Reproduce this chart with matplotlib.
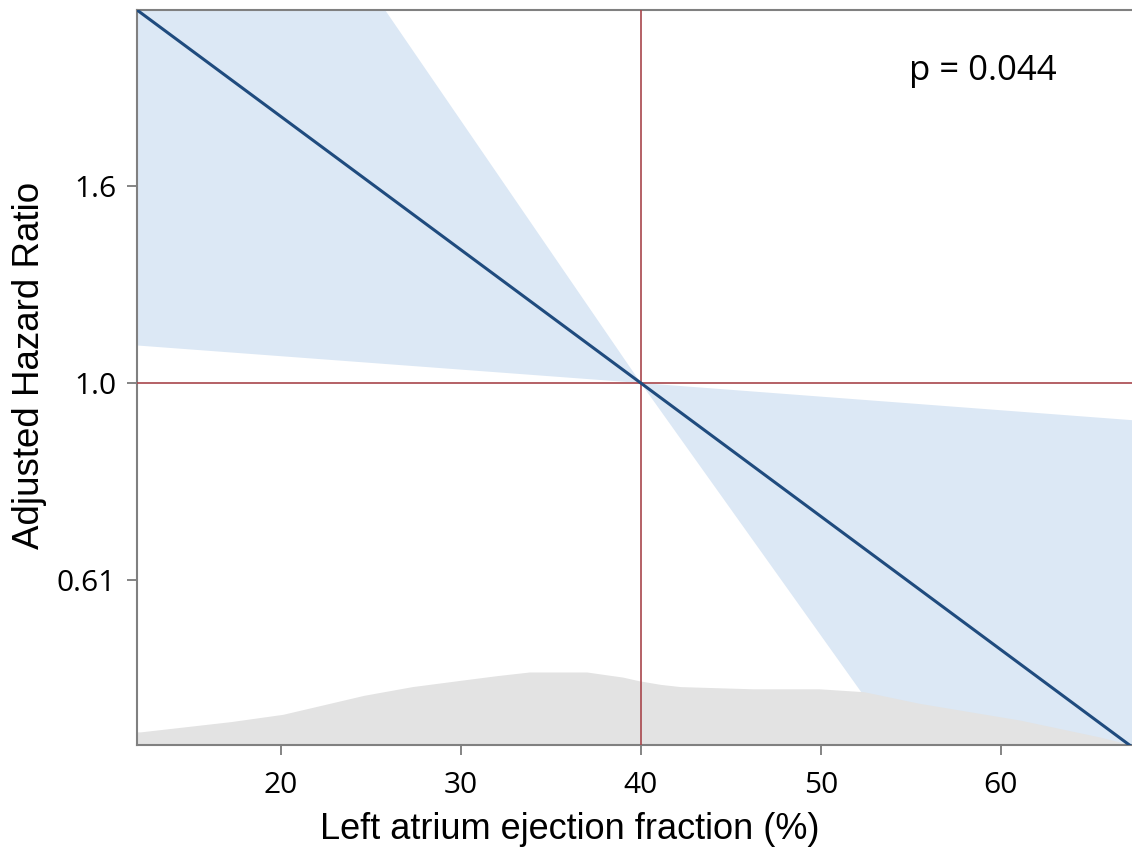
import numpy as np
import matplotlib.pyplot as plt
import matplotlib.transforms as mtransforms

# 数据
ef = [12, 40, 67.3]                    # LAEF (%)
hr = [2.578, 1.0, 0.397]               # 调整后 HR
hr_lower = [1.10, 1.0, 0.174]
hr_upper = [6.46, 1.0, 0.910]

# 底部分布（相对密度，峰值=1）
dens_x = [12.0, 12.2, 17.2, 20.1, 22.7, 24.6, 27.3, 30.1, 32.0, 33.8, 37.0,
          39.0, 39.9, 41.1, 42.2, 46.2, 49.9, 52.4, 55.5, 61.1, 65.5, 67.3]
dens_y = [0.18, 0.18, 0.32, 0.42, 0.57, 0.68, 0.80, 0.89, 0.95, 1.0, 1.0,
          0.93, 0.88, 0.83, 0.80, 0.77, 0.77, 0.73, 0.57, 0.34, 0.11, 0.0]

xticks = [20, 30, 40, 50, 60]
ytick_pos = [np.exp(-0.5), 1.0, np.exp(0.5)]
ytick_labels = ['0.61', '1.0', '1.6']
p_text = 'p = 0.044'

fig = plt.figure(figsize=(11.32, 8.48), dpi=100)
ax = fig.add_axes([137 / 1132, 1 - 745 / 848, 1 - 137 / 1132, 735 / 848])

ax.set_yscale('log')
ax.set_xlim(12, 67.3)
ax.set_ylim(np.exp(-0.919), np.exp(0.947))

# 置信区间
ax.fill_between(ef, hr_lower, hr_upper, color='#dce8f5', lw=0, zorder=1)

# 密度分布（轴坐标高度）
trans = mtransforms.blended_transform_factory(ax.transData, ax.transAxes)
ax.fill_between(dens_x, 0, np.array(dens_y) * 73 / 735, color='#e3e3e3',
                lw=0, transform=trans, zorder=2)

# 参考线
ax.axhline(1.0, color='#a8464c', lw=1.2, zorder=3)
ax.axvline(40, color='#a8464c', lw=1.2, zorder=3)

# 主曲线
ax.plot(ef, hr, color='#1f4b7e', lw=2.2, zorder=4, solid_capstyle='butt')

ax.text(0.850, 0.905, p_text, transform=ax.transAxes, ha='center',
        va='baseline', fontsize=25, family='Open Sans')

ax.set_xticks(xticks)
ax.set_xticklabels([str(t) for t in xticks], family='Open Sans', fontsize=21.5)
ax.set_yticks(ytick_pos)
ax.set_yticklabels(ytick_labels, family='Open Sans', fontsize=21.5)
ax.yaxis.set_minor_locator(plt.NullLocator())

ax.tick_params(axis='both', direction='out', length=7, width=1.2,
               color='#707070')
ax.tick_params(axis='x', pad=12)
ax.tick_params(axis='y', pad=8)

for s in ['left', 'bottom', 'top']:
    ax.spines[s].set_color('#808080')
    ax.spines[s].set_linewidth(1.5)
ax.spines['right'].set_visible(False)

ax.set_xlabel('Left atrium ejection fraction (%)', family='Liberation Sans',
              fontsize=26)
ax.xaxis.set_label_coords(0.435, -0.091, transform=ax.transAxes)
ax.xaxis.label.set_va('top')
ax.set_ylabel('Adjusted Hazard Ratio', family='Liberation Sans', fontsize=26.5)
ax.yaxis.set_label_coords(-0.1085, 0.517, transform=ax.transAxes)
ax.yaxis.label.set_va('center')

fig.savefig('out.png', dpi=100)
